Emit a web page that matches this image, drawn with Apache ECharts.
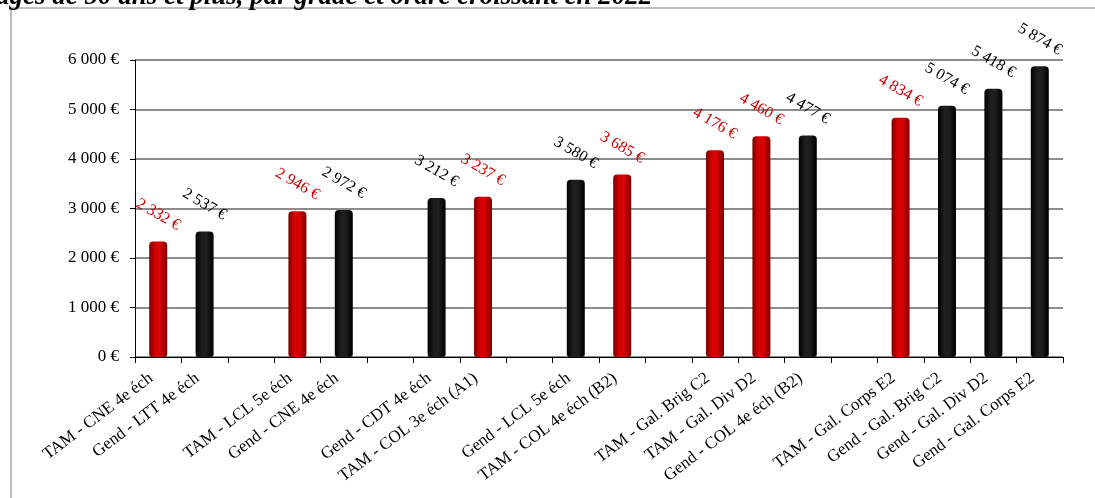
<!DOCTYPE html>
<html>
<head>
<meta charset="utf-8">
<title>Soldes par grade</title>
<script src="https://cdn.jsdelivr.net/npm/echarts@6/dist/echarts.min.js"></script>
<style>
  html, body { margin: 0; padding: 0; background: #fff; }
  #chart { width: 1095px; height: 498px; }
</style>
</head>
<body>
<div id="chart"></div>
<script>
// categories ('' = empty slot between groups)
const categories = [
  'TAM - CNE 4e éch', 'Gend - LTT 4e éch', '',
  'TAM - LCL 5e éch', 'Gend - CNE 4e éch', '',
  'Gend - CDT 4e éch', 'TAM - COL 3e éch (A1)', '',
  'Gend - LCL 5e éch', 'TAM - COL 4e éch (B2)', '',
  'TAM - Gal. Brig C2', 'TAM - Gal. Div D2', 'Gend - COL 4e éch (B2)', '',
  'TAM - Gal. Corps E2', 'Gend - Gal. Brig C2', 'Gend - Gal. Div D2', 'Gend - Gal. Corps E2'
]
const tamValues = [2332, null, null, 2946, null, null, null, 3237, null, null, 3685, null, 4176, 4460, null, null, 4834, null, null, null]
const gendValues = [null, 2537, null, null, 2972, null, 3212, null, null, 3580, null, null, null, null, 4477, null, null, 5074, 5418, 5874]
const yTicks = [0, 1000, 2000, 3000, 4000, 5000, 6000]

const serif = '"Liberation Serif", "DejaVu Serif", serif'

function euro(v) {
  return String(v).replace(/\B(?=(\d{3})+(?!\d))/g, ' ') + ' €'
}

function cylinder(edge, mid) {
  return {
    type: 'linear', x: 0, y: 0, x2: 1, y2: 0,
    colorStops: [
      { offset: 0, color: edge },
      { offset: 0.35, color: mid },
      { offset: 0.6, color: mid },
      { offset: 1, color: edge }
    ]
  }
}

function labelStyle(color) {
  return {
    show: true,
    position: 'top',
    distance: 27,
    rotate: -30,
    align: 'center',
    verticalAlign: 'middle',
    color: color,
    fontFamily: serif,
    fontSize: 16,
    formatter: p => euro(p.value)
  }
}

const chart = echarts.init(document.getElementById('chart'))
chart.setOption({
  animation: false,
  textStyle: { fontFamily: serif },
  grid: { left: 135, right: 32, top: 60, bottom: 141 },
  graphic: [
    {
      type: 'rect',
      shape: { x: 11, y: 8, width: 1100, height: 500 },
      style: { fill: 'none', stroke: '#bfbfbf', lineWidth: 2 }
    },
    {
      type: 'text',
      left: -4,
      top: -16,
      style: {
        text: 'âgés de 50 ans et plus, par grade et ordre croissant en 2022',
        font: 'italic bold 27px ' + serif,
        fill: '#000'
      }
    }
  ],
  xAxis: {
    type: 'category',
    data: categories,
    axisLine: { lineStyle: { color: '#000', width: 1 } },
    axisTick: { show: true, length: 6, lineStyle: { color: '#000' } },
    axisLabel: {
      interval: 0,
      rotate: 37,
      margin: 14,
      padding: [0, 9, 0, 0],
      color: '#000',
      fontFamily: serif,
      fontSize: 17
    }
  },
  yAxis: {
    type: 'value',
    min: yTicks[0],
    max: yTicks[yTicks.length - 1],
    interval: 1000,
    axisLine: { show: true, lineStyle: { color: '#000', width: 1 } },
    axisTick: { show: true, length: 5, lineStyle: { color: '#000' } },
    axisLabel: {
      margin: 16,
      color: '#000',
      fontFamily: serif,
      fontSize: 17,
      formatter: v => euro(v)
    },
    splitLine: { lineStyle: { color: '#8c8c8c', width: 2 } }
  },
  series: [
    {
      name: 'TAM',
      type: 'bar',
      barWidth: 18,
      barGap: '-100%',
      data: tamValues,
      itemStyle: {
        color: cylinder('#7d0000', '#d80000'),
        borderRadius: [4, 4, 3, 3]
      },
      label: labelStyle('#cc0000')
    },
    {
      name: 'Gend',
      type: 'bar',
      barWidth: 18,
      barGap: '-100%',
      data: gendValues,
      itemStyle: {
        color: cylinder('#000000', '#1e1e1e'),
        borderRadius: [4, 4, 3, 3]
      },
      label: labelStyle('#000')
    }
  ]
})
</script>
</body>
</html>
